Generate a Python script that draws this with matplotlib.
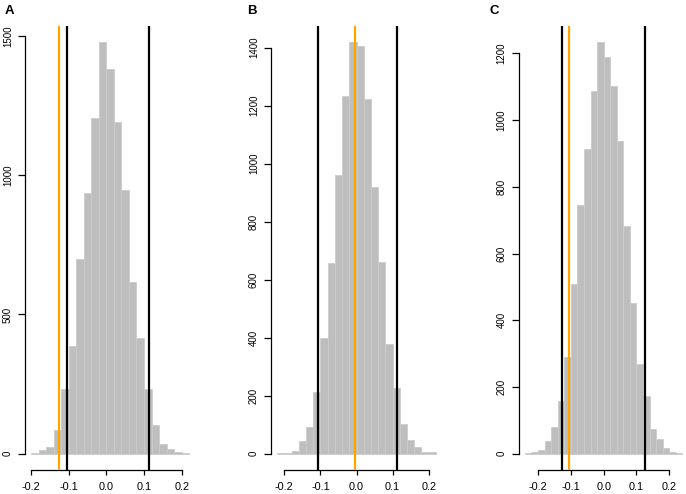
import numpy as np
import matplotlib.pyplot as plt

plt.rcParams['font.family'] = ['Liberation Sans', 'DejaVu Sans']
plt.rcParams['axes.unicode_minus'] = False

# histogram bin edges and counts
edges_a = [-0.20, -0.18, -0.16, -0.14, -0.12, -0.10, -0.08, -0.06, -0.04, -0.02, 0.00,
           0.02, 0.04, 0.06, 0.08, 0.10, 0.12, 0.14, 0.16, 0.18, 0.20, 0.22]
counts_a = [3, 12, 24, 86, 231, 387, 700, 937, 1208, 1478,
            1383, 1193, 947, 618, 414, 231, 103, 34, 18, 4, 1]

edges_b = [-0.22, -0.20, -0.18, -0.16, -0.14, -0.12, -0.10, -0.08, -0.06, -0.04, -0.02, 0.00,
           0.02, 0.04, 0.06, 0.08, 0.10, 0.12, 0.14, 0.16, 0.18, 0.20, 0.22]
counts_b = [2, 3, 9, 43, 91, 213, 400, 658, 960, 1235, 1418,
            1407, 1224, 919, 661, 378, 227, 103, 48, 23, 6, 6]

edges_c = [-0.24, -0.22, -0.20, -0.18, -0.16, -0.14, -0.12, -0.10, -0.08, -0.06, -0.04, -0.02, 0.00,
           0.02, 0.04, 0.06, 0.08, 0.10, 0.12, 0.14, 0.16, 0.18, 0.20, 0.22, 0.24]
counts_c = [1, 5, 12, 39, 79, 158, 290, 508, 746, 914, 1086, 1233,
            1188, 1102, 936, 682, 452, 269, 172, 73, 45, 18, 6, 2]

# confidence bounds (black) and observed value (orange)
bounds_a = [-0.105, 0.112]
obs_a = -0.127
bounds_b = [-0.106, 0.112]
obs_b = -0.005
bounds_c = [-0.128, 0.126]
obs_c = -0.1056

yticks_a = [0, 500, 1000, 1500]
yticks_b = [0, 200, 400, 600, 800, 1000, 1200, 1400]
yticks_c = [0, 200, 400, 600, 800, 1000, 1200]
xticks = [-0.2, -0.1, 0.0, 0.1, 0.2]
xticklabels = ['-0.2', '-0.1', '0.0', '0.1', '0.2']

panels = [
    ('A', edges_a, counts_a, bounds_a, obs_a, yticks_a, 31.0, 181.7, 5),
    ('B', edges_b, counts_b, bounds_b, obs_b, yticks_b, 284.3, 428.7, 247),
    ('C', edges_c, counts_c, bounds_c, obs_c, yticks_c, 538.0, 669.3, 490),
]

W, H = 686, 494
fig = plt.figure(figsize=(W / 100, H / 100), dpi=100)

top_px, bot_px = 26, 470

for letter, edges, counts, bounds, obs, yticks, px_lo, px_hi, lab_x in panels:
    # R style axis range: data range padded by 4%
    lo, hi = edges[0], edges[-1]
    pad = 0.04 * (hi - lo)
    xlim = (lo - pad, hi + pad)
    scale = (px_hi - px_lo) / 0.4
    left_px = px_lo - (-0.2 - xlim[0]) * scale
    width_px = (xlim[1] - xlim[0]) * scale

    ax = fig.add_axes([left_px / W, (H - bot_px) / H, width_px / W, (bot_px - top_px) / H])
    ax.patch.set_alpha(0)

    ax.hist(edges[:-1], bins=edges, weights=counts, color='#bebebe',
            edgecolor='#cbcbcb', linewidth=0.6)
    for b in bounds:
        ax.axvline(b, color='black', lw=1.6, zorder=3)
    ax.axvline(obs, color='#ffa500', lw=1.6, zorder=3)

    ymax = max(counts)
    ax.set_xlim(*xlim)
    ax.set_ylim(-0.04 * ymax, 1.04 * ymax)

    ax.set_xticks(xticks)
    ax.set_xticklabels(xticklabels)
    ax.set_yticks(yticks)
    ax.set_yticklabels([str(t) for t in yticks], rotation=90, va='center')

    for s in ['top', 'right']:
        ax.spines[s].set_visible(False)
    ax.spines['left'].set_bounds(yticks[0], yticks[-1])
    ax.spines['bottom'].set_bounds(xticks[0], xticks[-1])
    for s in ['left', 'bottom']:
        ax.spines[s].set_linewidth(0.9)

    ax.tick_params(axis='x', length=3.8, width=0.9, pad=5.0, labelsize=7.8)
    ax.tick_params(axis='y', length=5.0, width=0.9, pad=3.5, labelsize=7.0)

    fig.text(lab_x / W, 1 - 5 / H, letter, fontsize=9.5, fontweight='bold',
             ha='left', va='top')

fig.savefig('out.png', dpi=100)
